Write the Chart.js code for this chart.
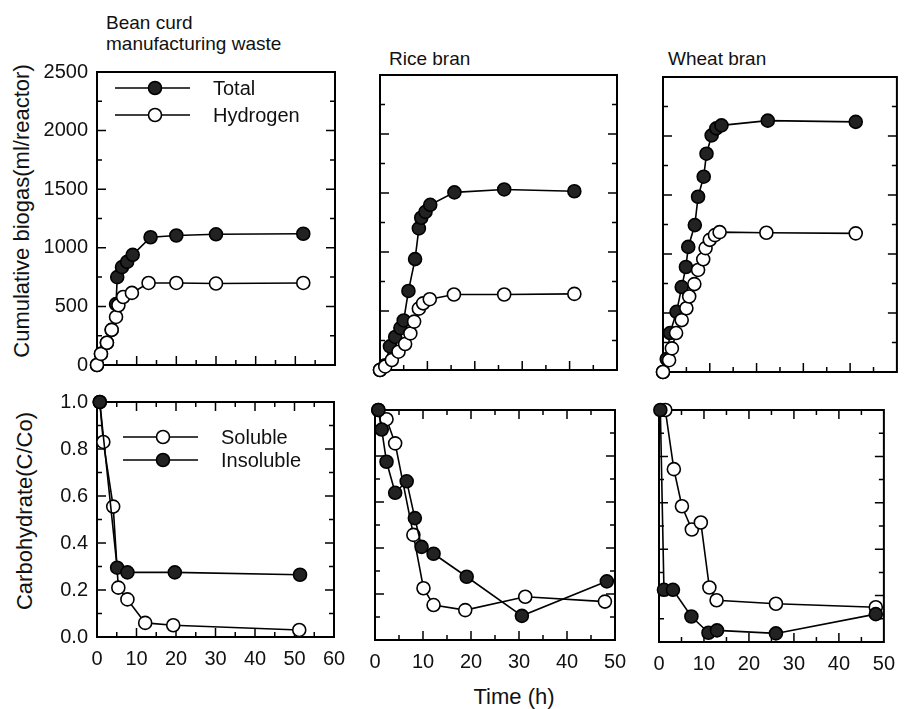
<!DOCTYPE html>
<html>
<head>
<meta charset="utf-8">
<script src="https://cdn.jsdelivr.net/npm/chart.js@4.4.1/dist/chart.umd.min.js"></script>
<style>
  html, body { margin: 0; padding: 0; background: #fff; }
  #page { position: relative; width: 905px; height: 709px; overflow: hidden;
          font-family: "Liberation Sans", Arial, Helvetica, sans-serif; color: #111; }
  #page canvas { position: absolute; left: 0; top: 0; }
  .txt { position: absolute; white-space: nowrap; font-size: 19px; line-height: 21px; }
  .ytitle { position: absolute; white-space: nowrap; font-size: 22px; line-height: 26px;
            transform: translate(-50%, -50%) rotate(-90deg); }
</style>
</head>
<body>
<div id="page">
  <div class="txt" style="left:106px; top:12px;">Bean curd<br>manufacturing waste</div>
  <div class="txt" style="left:389px; top:48px;">Rice bran</div>
  <div class="txt" style="left:668px; top:48px;">Wheat bran</div>
  <div class="ytitle" style="left:22px; top:211px;">Cumulative biogas(ml/reactor)</div>
  <div class="ytitle" style="left:25px; top:511px;">Carbohydrate(C/Co)</div>
  <div class="txt" style="left:514px; top:684px; font-size:22px; line-height:26px; transform:translateX(-50%);">Time (h)</div>
  <canvas id="c1" width="905" height="709"></canvas>
  <canvas id="c2" width="905" height="709"></canvas>
  <canvas id="c3" width="905" height="709"></canvas>
  <canvas id="c4" width="905" height="709"></canvas>
  <canvas id="c5" width="905" height="709"></canvas>
  <canvas id="c6" width="905" height="709"></canvas>
</div>
<script>
// ---- data, [time (h), value] ----
// cumulative biogas (ml/reactor)
const beanTotal = [[0,0],[1,95],[2.5,190],[3.7,300],[4.8,520],[5.1,750],[6.3,835],[7.6,880],[9,940],[13.5,1090],[20,1105],[30,1115],[52,1120]];
const beanH2    = [[0,0],[1,95],[2.5,190],[3.7,300],[4.8,410],[5.4,510],[6.6,580],[8.8,615],[13,700],[20,700],[30,695],[52,700]];
const riceTotal = [[0,0],[1.1,40],[2.1,200],[3.2,280],[4.3,355],[5,420],[6,670],[7.4,940],[8.2,1200],[8.7,1290],[9.6,1340],[10.6,1400],[15.7,1505],[26.2,1530],[41,1515]];
const riceH2    = [[0,0],[1.1,30],[2.5,85],[3.9,155],[5.3,220],[6.4,310],[7.2,410],[8.2,520],[9.1,565],[10.5,600],[15.6,640],[26.2,640],[41,645]];
const wheatTotal = [[0,0],[0.8,110],[1.5,330],[2.9,510],[4,720],[4.9,890],[5.4,1060],[6.8,1245],[7.5,1485],[8.7,1655],[9.3,1850],[10.4,2005],[11.4,2065],[12.5,2090],[22.4,2130],[41.2,2120]];
const wheatH2    = [[0,0],[1.3,100],[1.9,200],[2.8,330],[4,440],[5,540],[5.6,640],[6.7,745],[7.5,865],[8.6,955],[9.1,1050],[10,1120],[11.1,1160],[12.1,1185],[22.1,1180],[41.2,1175]];
// carbohydrate (C/Co)
const beanSol   = [[0.7,1.0],[1.6,0.83],[4.1,0.555],[5.4,0.21],[7.7,0.16],[12.2,0.06],[19.3,0.05],[51.2,0.03]];
const beanInsol = [[0.7,1.0],[5.1,0.295],[7.7,0.275],[19.7,0.275],[51.4,0.265]];
const riceSol   = [[0.7,1.0],[2.4,0.96],[4.2,0.855],[8,0.457],[10.1,0.225],[12.2,0.152],[18.8,0.13],[31.3,0.188],[47.9,0.167]];
const riceInsol = [[0.7,1.0],[1.4,0.915],[2.4,0.775],[4.2,0.64],[6.6,0.69],[8.3,0.53],[9.7,0.405],[12.2,0.375],[19.1,0.275],[30.6,0.105],[48.3,0.255]];
const wheatSol   = [[1.4,1.0],[3.3,0.745],[5.1,0.585],[7.3,0.485],[9.3,0.515],[11.2,0.235],[12.8,0.18],[26,0.165],[48.2,0.15]];
const wheatInsol = [[0.3,1.0],[1.1,0.225],[3.1,0.225],[7.2,0.11],[11,0.04],[12.9,0.05],[26,0.037],[48.2,0.12]];

// tick labels
const gasTicks  = ['0', '500', '1000', '1500', '2000', '2500'];
const carbTicks = ['0.0', '0.2', '0.4', '0.6', '0.8', '1.0'];
const time60Ticks = ['0', '10', '20', '30', '40', '50', '60'];
const time50Ticks = ['0', '10', '20', '30', '40', '50'];

const W = 905, H = 709;
Chart.defaults.font.family = '"Liberation Sans", Arial, Helvetica, sans-serif';
Chart.defaults.color = '#111';

// frame + inward tick marks, drawn from the scales
const frameTicks = {
  id: 'frameTicks',
  beforeDatasetsDraw(chart, args, o) {
    const { ctx, chartArea: a, scales: { x, y } } = chart;
    const major = (v, m) => Math.abs(v / m - Math.round(v / m)) < 1e-6;
    ctx.save();
    ctx.strokeStyle = '#000';
    ctx.lineWidth = 2;
    ctx.strokeRect(a.left, a.top, a.right - a.left, a.bottom - a.top);
    ctx.lineWidth = 1.5;
    ctx.beginPath();
    for (let i = 1; x.min + i * o.xMinor < x.max - 1e-9; i++) {
      const v = x.min + i * o.xMinor;
      const px = x.getPixelForValue(v);
      const len = major(v, o.xMajor) ? 9 : 5;
      ctx.moveTo(px, a.bottom); ctx.lineTo(px, a.bottom - len);
      if (o.topTicks) { ctx.moveTo(px, a.top); ctx.lineTo(px, a.top + len); }
    }
    for (let i = 1; y.min + i * o.yMinor < y.max - 1e-9; i++) {
      const v = y.min + i * o.yMinor;
      const py = y.getPixelForValue(v);
      const len = major(v, o.yMajor) ? 9 : 5;
      ctx.moveTo(a.left, py); ctx.lineTo(a.left + len, py);
      ctx.moveTo(a.right, py); ctx.lineTo(a.right - len, py);
    }
    ctx.stroke();
    ctx.restore();
  }
};

// legend drawn inside the plot: line through marker, then label
const miniLegend = {
  id: 'miniLegend',
  afterDatasetsDraw(chart, args, o) {
    if (!o.items) return;
    const { ctx, chartArea: a } = chart;
    ctx.save();
    o.items.forEach((it, i) => {
      const x0 = a.left + o.dx, yy = a.top + o.dy + i * o.gap;
      ctx.strokeStyle = '#000';
      ctx.lineWidth = 1.6;
      ctx.beginPath(); ctx.moveTo(x0, yy); ctx.lineTo(x0 + 75, yy); ctx.stroke();
      ctx.beginPath(); ctx.arc(x0 + 40, yy, 6.5, 0, Math.PI * 2);
      ctx.fillStyle = it.filled ? '#222' : '#fff';
      ctx.fill(); ctx.stroke();
      ctx.fillStyle = '#111';
      ctx.font = '20px "Liberation Sans", Arial, sans-serif';
      ctx.textBaseline = 'middle';
      ctx.fillText(it.label, x0 + 98, yy + 1);
    });
    ctx.restore();
  }
};

function series(pairs, filled, label) {
  return {
    label: label,
    data: pairs.map(p => ({ x: p[0], y: p[1] })),
    showLine: true,
    borderColor: '#000',
    borderWidth: 1.6,
    backgroundColor: filled ? '#222' : '#fff',
    pointBackgroundColor: filled ? '#222' : '#fff',
    pointBorderColor: '#000',
    pointBorderWidth: 1.6,
    pointRadius: 6.5,
    tension: 0,
    clip: false
  };
}

function panel(id, box, xMax, xLabels, yKind, datasets, legend) {
  const gas = yKind === 'gas';
  const showY = box.left < 200;
  const showX = !gas;
  new Chart(document.getElementById(id), {
    type: 'scatter',
    data: { datasets: datasets },
    options: {
      responsive: false,
      animation: false,
      events: [],
      layout: {
        padding: {
          left: showY ? 0 : box.left,
          right: W - box.right,
          top: box.top,
          bottom: showX ? 0 : H - box.bottom
        }
      },
      plugins: {
        legend: { display: false },
        tooltip: { enabled: false },
        frameTicks: { xMinor: 5, xMajor: 10, yMinor: gas ? 250 : 0.1, yMajor: gas ? 500 : 0.2, topTicks: !gas },
        miniLegend: legend || {}
      },
      scales: {
        x: {
          type: 'linear', min: 0, max: xMax,
          display: showX,
          grid: { display: false, drawTicks: false },
          border: { display: false },
          ticks: {
            stepSize: 10, padding: 10, maxRotation: 0, autoSkip: false,
            color: '#111', font: { size: 20 },
            callback: (v, i) => xLabels[i]
          },
          afterFit(s) { if (showX) s.height = H - box.bottom; }
        },
        y: {
          type: 'linear', min: 0, max: gas ? 2500 : 1,
          display: showY,
          grid: { display: false, drawTicks: false },
          border: { display: false },
          ticks: {
            stepSize: gas ? 500 : 0.2, padding: 9,
            color: '#111', font: { size: 20 },
            callback: (v, i) => (gas ? gasTicks : carbTicks)[i]
          },
          afterFit(s) { if (showY) s.width = box.left; }
        }
      }
    },
    plugins: [frameTicks, miniLegend]
  });
}

// dataset 0 is drawn on top
panel('c1', { left: 97, right: 335, top: 72, bottom: 365 }, 60, time60Ticks, 'gas',
  [series(beanH2, false, 'Hydrogen'), series(beanTotal, true, 'Total')],
  { dx: 18, dy: 16, gap: 27, items: [{ label: 'Total', filled: true }, { label: 'Hydrogen', filled: false }] });
panel('c2', { left: 380, right: 617, top: 75, bottom: 370 }, 50, time50Ticks, 'gas',
  [series(riceH2, false, 'Hydrogen'), series(riceTotal, true, 'Total')]);
panel('c3', { left: 663, right: 900, top: 77, bottom: 372 }, 50, time50Ticks, 'gas',
  [series(wheatH2, false, 'Hydrogen'), series(wheatTotal, true, 'Total')]);
panel('c4', { left: 97, right: 334, top: 402, bottom: 637 }, 60, time60Ticks, 'carb',
  [series(beanInsol, true, 'Insoluble'), series(beanSol, false, 'Soluble')],
  { dx: 26, dy: 35, gap: 23, items: [{ label: 'Soluble', filled: false }, { label: 'Insoluble', filled: true }] });
panel('c5', { left: 375, right: 615, top: 410, bottom: 640 }, 50, time50Ticks, 'carb',
  [series(riceInsol, true, 'Insoluble'), series(riceSol, false, 'Soluble')]);
panel('c6', { left: 659, right: 898, top: 410, bottom: 642 }, 50, time50Ticks, 'carb',
  [series(wheatInsol, true, 'Insoluble'), series(wheatSol, false, 'Soluble')]);
</script>
</body>
</html>
